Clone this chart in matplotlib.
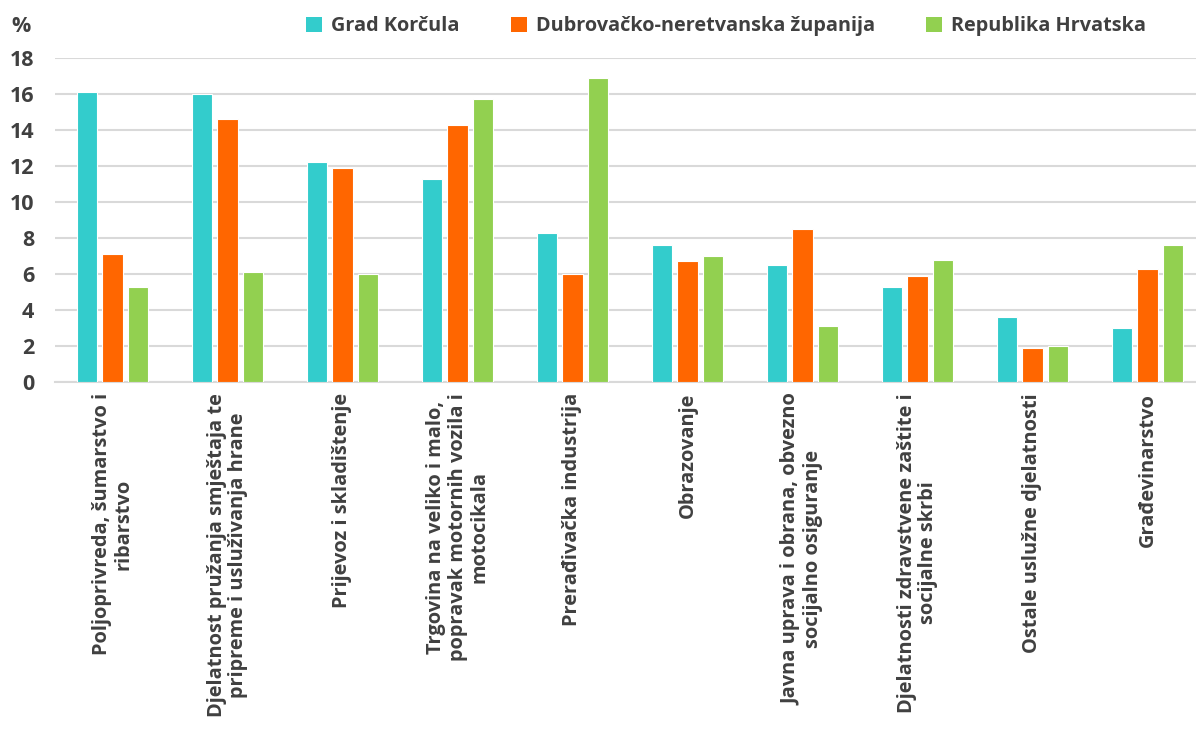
import matplotlib
matplotlib.use('Agg')
import matplotlib.pyplot as plt
import numpy as np
from matplotlib.patches import Patch

categories = [
    "Poljoprivreda, šumarstvo i\nribarstvo",
    "Djelatnost pružanja smještaja te\npripreme i usluživanja hrane",
    "Prijevoz i skladištenje",
    "Trgovina na veliko i malo,\npopravak motornih vozila i\nmotocikala",
    "Prerađivačka industrija",
    "Obrazovanje",
    "Javna uprava i obrana, obvezno\nsocijalno osiguranje",
    "Djelatnosti zdravstvene zaštite i\nsocijalne skrbi",
    "Ostale uslužne djelatnosti",
    "Građevinarstvo",
]
grad_korcula = [16.1, 16.0, 12.2, 11.3, 8.3, 7.6, 6.5, 5.3, 3.6, 3.0]
dubrovacko_neretvanska = [7.1, 14.6, 11.9, 14.3, 6.0, 6.7, 8.5, 5.9, 1.9, 6.3]
republika_hrvatska = [5.3, 6.1, 6.0, 15.7, 16.9, 7.0, 3.1, 6.8, 2.0, 7.6]
series_names = ["Grad Korčula", "Dubrovačko-neretvanska županija", "Republika Hrvatska"]
colors = ["#33CCCC", "#FF6600", "#92D050"]
yticks = [0, 2, 4, 6, 8, 10, 12, 14, 16, 18]

fam = ['Open Sans', 'DejaVu Sans']
plt.rcParams['font.family'] = fam
text_color = '#404040'

fig = plt.figure(figsize=(11.96, 7.29), dpi=100)
ax = fig.add_axes([55 / 1196, 1 - 382 / 729, 1150 / 1196, (382 - 58) / 729])

x = np.arange(len(categories))
w = 0.175
offsets = [-0.218, 0.0, 0.218]
series = [grad_korcula, dubrovacko_neretvanska, republika_hrvatska]
for vals, off, c, name in zip(series, offsets, colors, series_names):
    ax.bar(x + off, vals, w, color=c, edgecolor='white', linewidth=0.8,
           label=name, zorder=3)

ax.set_xlim(-0.5, 9.5)
ax.set_ylim(0, 18)
ax.set_yticks(yticks)
ax.set_yticklabels([str(t) for t in yticks], fontsize=15.5, fontweight='bold',
                   color=text_color)
ax.grid(axis='y', color='#D9D9D9', linewidth=1.5, zorder=0)
ax.set_axisbelow(True)
for s in ['top', 'right', 'left']:
    ax.spines[s].set_visible(False)
ax.spines['bottom'].set_color('#D9D9D9')
ax.spines['bottom'].set_linewidth(1.5)
ax.tick_params(axis='both', length=0)
ax.tick_params(axis='y', pad=15)
ax.tick_params(axis='x', pad=8)
ax.set_xticks(x)
ax.set_xticklabels(categories, rotation=90, ha='center', va='top',
                   fontsize=14.4, fontweight='bold', color=text_color,
                   linespacing=1.12)

fig.text(11 / 1196, 1 - 27 / 729, '%', fontsize=15.5, fontweight='bold',
         color=text_color, ha='left', va='center')

handles = [Patch(facecolor=c, edgecolor='none') for c in colors]
fig.legend(handles, series_names, loc='center', bbox_to_anchor=(726 / 1196, 1 - 26 / 729),
           ncol=3, frameon=False, handlelength=0.8, handleheight=0.8,
           handletextpad=0.45, columnspacing=2.6,
           prop={'family': fam, 'weight': 'bold', 'size': 14.3},
           labelcolor=text_color)

fig.savefig('out.png', dpi=100, facecolor='white')
